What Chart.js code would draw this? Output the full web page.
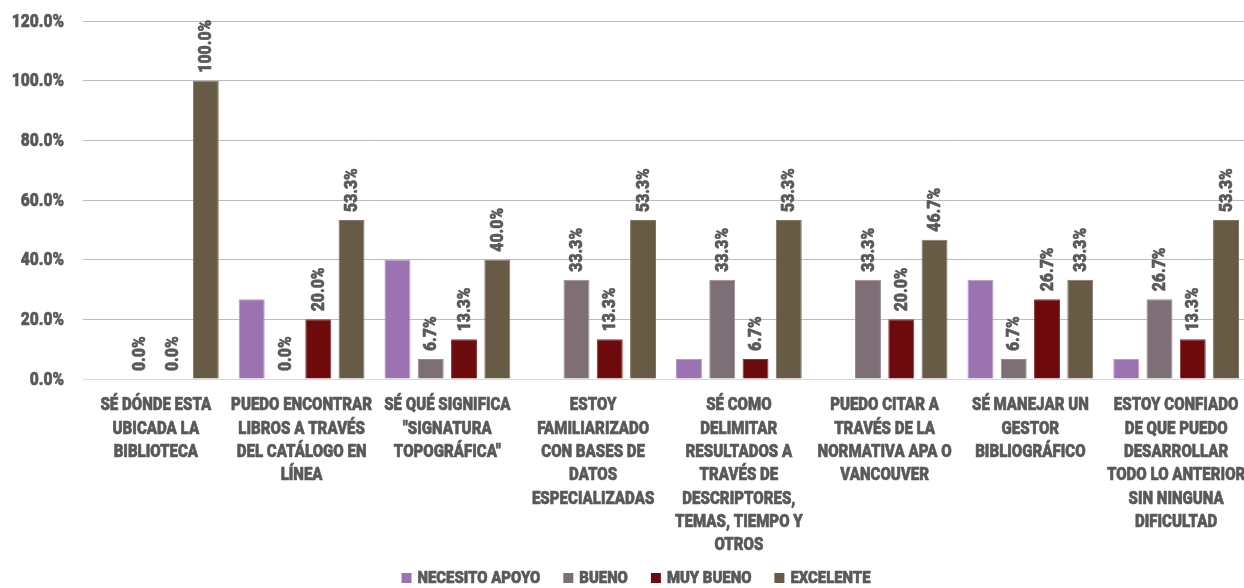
<!DOCTYPE html>
<html>
<head>
<meta charset="utf-8">
<script src="https://cdn.jsdelivr.net/npm/chart.js@4/dist/chart.umd.min.js"></script>
<style>
  html, body { margin: 0; padding: 0; background: #ffffff; overflow: hidden; }
  #wrap { width: 1244px; height: 588px; overflow: hidden; }
  canvas { display: block; }
</style>
</head>
<body>
<div id="wrap"><canvas id="chart" width="1250" height="588"></canvas></div>
<script>
// Survey statements (multi-line axis labels)
const categories = [
  ["SÉ DÓNDE ESTA", "UBICADA LA", "BIBLIOTECA"],
  ["PUEDO ENCONTRAR", "LIBROS A TRAVÉS", "DEL CATÁLOGO EN", "LÍNEA"],
  ["SÉ QUÉ SIGNIFICA", "\"SIGNATURA", "TOPOGRÁFICA\""],
  ["ESTOY", "FAMILIARIZADO", "CON BASES DE", "DATOS", "ESPECIALIZADAS"],
  ["SÉ COMO", "DELIMITAR", "RESULTADOS A", "TRAVÉS DE", "DESCRIPTORES,", "TEMAS, TIEMPO Y", "OTROS"],
  ["PUEDO CITAR A", "TRAVÉS DE LA", "NORMATIVA APA O", "VANCOUVER"],
  ["SÉ MANEJAR UN", "GESTOR", "BIBLIOGRÁFICO"],
  ["ESTOY CONFIADO", "DE QUE PUEDO", "DESARROLLAR", "TODO LO ANTERIOR", "SIN NINGUNA", "DIFICULTAD"]
];

// Share of answers per rating level (%)
const necesitoApoyo = [0, 26.7, 40.0, 0, 6.7, 0, 33.3, 6.7];
const bueno         = [0.0, 0.0, 6.7, 33.3, 33.3, 33.3, 6.7, 26.7];
const muyBueno      = [0.0, 20.0, 13.3, 13.3, 6.7, 20.0, 26.7, 13.3];
const excelente     = [100.0, 53.3, 40.0, 53.3, 53.3, 46.7, 33.3, 53.3];

// Series names
const seriesNames = ["NECESITO APOYO", "BUENO", "MUY BUENO", "EXCELENTE"];

// Value axis ticks
const yTicks = [0, 20, 40, 60, 80, 100, 120];

const FAMILY = "Roboto, 'DejaVu Sans', sans-serif";
const TEXT = '#595959';
const COLORS = ['#9b73b0', '#7e6f76', '#6d0a0b', '#675b45'];
const EDGES  = ['#b499c4', '#968a91', '#8a3434', '#7f7461'];

// Draws heavy text squeezed horizontally for a condensed look
function condensedText(ctx, text, x, y, align, sx) {
  const w = ctx.measureText(text).width * sx;
  let left = x;
  if (align === 'center') left = x - w / 2;
  else if (align === 'right') left = x - w;
  ctx.save();
  ctx.translate(left, y);
  ctx.scale(sx, 1);
  ctx.textAlign = 'left';
  ctx.strokeStyle = ctx.fillStyle;
  ctx.lineWidth = 0.6;
  ctx.lineJoin = 'round';
  ctx.fillText(text, 0, 0);
  ctx.strokeText(text, 0, 0);
  ctx.restore();
  return w;
}

// Axis labels, value labels and legend
const textLayer = {
  id: 'textLayer',
  afterDraw(chart) {
    const ctx = chart.ctx;
    const xs = chart.scales.x, ys = chart.scales.y;
    ctx.save();
    ctx.fillStyle = TEXT;
    ctx.textBaseline = 'middle';

    // value axis
    ctx.font = '900 18.5px ' + FAMILY;
    yTicks.forEach(v => {
      condensedText(ctx, v.toFixed(1) + '%', 64, ys.getPixelForValue(v) + 1, 'right', 0.84);
    });

    // category axis
    ctx.font = '900 17.5px ' + FAMILY;
    categories.forEach((lines, i) => {
      const cx = xs.getPixelForValue(i);
      lines.forEach((line, k) => {
        condensedText(ctx, line, cx, ys.bottom + 27 + k * 23.3, 'center', 0.86);
      });
    });

    // vertical value labels above bars (rating levels 2-4)
    ctx.font = '900 18.5px ' + FAMILY;
    chart.data.datasets.forEach((ds, di) => {
      if (!ds.showValues) return;
      chart.getDatasetMeta(di).data.forEach((bar, i) => {
        const v = ds.data[i];
        if (v === null || v === undefined) return;
        ctx.save();
        ctx.translate(bar.x + 1, bar.y - 8);
        ctx.rotate(-Math.PI / 2);
        condensedText(ctx, v.toFixed(1) + '%', 0, 0, 'left', 0.85);
        ctx.restore();
      });
    });

    // legend
    ctx.font = '900 16px ' + FAMILY;
    const sx = 0.93, box = 10, gapBox = 6, gapItem = 23;
    const widths = seriesNames.map(n => ctx.measureText(n).width * sx);
    const total = widths.reduce((a, b) => a + b, 0) + seriesNames.length * (box + gapBox) + (seriesNames.length - 1) * gapItem;
    let lx = 636 - total / 2;
    const ly = 578;
    seriesNames.forEach((n, i) => {
      ctx.fillStyle = COLORS[i];
      ctx.fillRect(lx, ly - box / 2, box, box);
      lx += box + gapBox;
      ctx.fillStyle = TEXT;
      condensedText(ctx, n, lx, ly + 1, 'left', sx);
      lx += widths[i] + gapItem;
    });
    ctx.restore();
  }
};

new Chart(document.getElementById('chart'), {
  type: 'bar',
  data: {
    labels: categories.map(l => l.join(' ')),
    datasets: [necesitoApoyo, bueno, muyBueno, excelente].map((d, i) => ({
      label: seriesNames[i],
      data: d,
      backgroundColor: COLORS[i],
      borderColor: EDGES[i],
      borderWidth: 1,
      showValues: i > 0
    }))
  },
  options: {
    responsive: false,
    animation: false,
    layout: { padding: { left: 83, right: 1, top: 21, bottom: 209 } },
    datasets: {
      bar: { categoryPercentage: 0.913, barPercentage: 0.78 }
    },
    scales: {
      x: {
        grid: { display: false },
        border: { display: false },
        ticks: { display: false },
        afterFit(axis) { axis.height = 0; }
      },
      y: {
        min: 0, max: 120,
        afterBuildTicks(axis) { axis.ticks = yTicks.map(v => ({ value: v })); },
        grid: {
          color: c => (c.tick && c.tick.value === 0) ? '#d9d9d9' : '#bcbcbc',
          lineWidth: 1,
          drawTicks: false
        },
        border: { display: false },
        ticks: { display: false },
        afterFit(axis) { axis.width = 0; }
      }
    },
    plugins: {
      legend: { display: false },
      tooltip: { enabled: false }
    }
  },
  plugins: [textLayer]
});
</script>
</body>
</html>
